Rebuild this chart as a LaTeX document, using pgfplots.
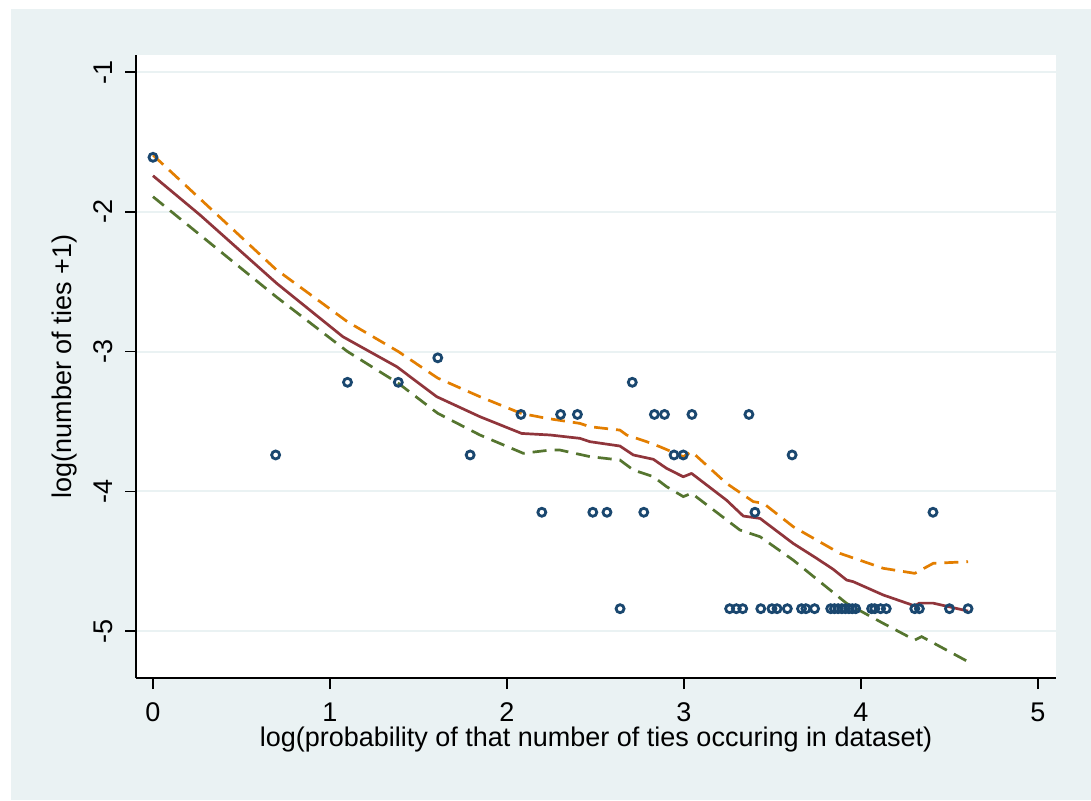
\documentclass[border=0pt]{standalone}
\usepackage{fontspec}
\setmainfont{Liberation Sans}
\usepackage{pgfplots}
\pgfplotsset{compat=1.18}

\definecolor{stbg}{HTML}{EAF2F3}
\definecolor{stnavy}{HTML}{1A476F}
\definecolor{stmaroon}{HTML}{90353B}
\definecolor{storange}{HTML}{E37E00}
\definecolor{stgreen}{HTML}{55752F}

\newcommand{\lblfont}{\fontsize{13.5}{16}\selectfont}

\begin{document}
\begin{tikzpicture}
\path[use as bounding box] (0,0) rectangle (545.5pt,400pt);
\fill[stbg] (5.5pt,0) rectangle (545.5pt,395.5pt);
\begin{axis}[
  at={(68pt,61pt)}, anchor=south west,
  scale only axis, width=460pt, height=311.5pt,
  xmin=-0.096, xmax=5.102,
  ymin=-5.336, ymax=-0.878,
  axis lines*=left,
  axis line style={black, line width=0.8pt},
  axis background/.style={fill=white},
  xtick={0,1,2,3,4,5},
  ytick={-5,-4,-3,-2,-1},
  tick align=outside,
  major tick length=5.5pt,
  tick style={black, line width=0.8pt},
  ymajorgrids,
  grid style={stbg, line width=1pt},
  /pgf/number format/assume math mode=true,
  ticklabel style={font=\lblfont},
  xticklabel style={yshift=-3.5pt},
  yticklabel style={rotate=90, anchor=south, yshift=2.5pt},
  xlabel={log(probability of that number of ties occuring in dataset)},
  ylabel={log(number of ties +1)},
  xlabel style={font=\lblfont, at={([yshift=-31pt]axis description cs:0.5,0)}, anchor=center},
  ylabel style={font=\lblfont, at={([xshift=-35.5pt]axis description cs:0,0.5)}, anchor=center},
  clip=false,
]
% observed values
\addplot[only marks, mark=o, mark size=2pt, line width=1.4pt, color=stnavy] coordinates {
  (0,-1.61) (0.693,-3.74) (1.099,-3.22) (1.386,-3.22) (1.609,-3.045)
  (1.792,-3.74) (2.079,-3.45) (2.197,-4.15) (2.303,-3.45) (2.398,-3.45)
  (2.485,-4.15) (2.565,-4.15) (2.639,-4.84) (2.708,-3.22) (2.773,-4.15)
  (2.833,-3.45) (2.890,-3.45) (2.944,-3.74) (2.996,-3.74) (3.045,-3.45)
  (3.367,-3.45) (3.401,-4.15) (3.611,-3.74) (4.407,-4.15)
  (3.258,-4.84) (3.296,-4.84) (3.332,-4.84) (3.434,-4.84) (3.497,-4.84)
  (3.526,-4.84) (3.584,-4.84) (3.664,-4.84) (3.689,-4.84) (3.738,-4.84)
  (3.829,-4.84) (3.850,-4.84) (3.871,-4.84) (3.892,-4.84) (3.912,-4.84)
  (3.932,-4.84) (3.951,-4.84) (3.970,-4.84) (4.060,-4.84) (4.078,-4.84)
  (4.111,-4.84) (4.143,-4.84) (4.304,-4.84) (4.330,-4.84) (4.500,-4.84)
  (4.605,-4.84)
};
% smoothed fit
\addplot[color=stmaroon, line width=1.35pt, line join=round] coordinates {
  (0,-1.742) (0.266,-2.023) (0.699,-2.512) (1.073,-2.894) (1.377,-3.108)
  (1.603,-3.323) (1.847,-3.466) (2.083,-3.586) (2.243,-3.597) (2.412,-3.621)
  (2.469,-3.645) (2.638,-3.676) (2.714,-3.74) (2.827,-3.771) (2.902,-3.836)
  (2.996,-3.896) (3.043,-3.872) (3.24,-4.063) (3.335,-4.177) (3.43,-4.194)
  (3.617,-4.373) (3.75,-4.48) (3.843,-4.558) (3.919,-4.635) (3.957,-4.647)
  (4.126,-4.742) (4.304,-4.82) (4.33,-4.80) (4.407,-4.80) (4.605,-4.857)
};
% upper band
\addplot[color=storange, line width=1.35pt, dash pattern=on 7pt off 4pt] coordinates {
  (0,-1.594) (0.693,-2.41) (1.099,-2.787) (1.386,-3.0) (1.609,-3.19)
  (1.847,-3.323) (2.079,-3.442) (2.224,-3.478) (2.412,-3.514) (2.469,-3.538)
  (2.638,-3.562) (2.676,-3.597) (2.789,-3.645) (2.864,-3.681) (2.996,-3.752)
  (3.043,-3.716) (3.24,-3.943) (3.392,-4.074) (3.449,-4.086) (3.617,-4.253)
  (3.881,-4.444) (4.126,-4.551) (4.304,-4.587) (4.409,-4.515) (4.605,-4.504)
};
% lower band
\addplot[color=stgreen, line width=1.35pt, dash pattern=on 7pt off 4pt] coordinates {
  (0,-1.892) (0.693,-2.605) (1.099,-3.0) (1.386,-3.227) (1.609,-3.442)
  (1.847,-3.597) (2.092,-3.728) (2.243,-3.705) (2.30,-3.705) (2.469,-3.752)
  (2.638,-3.776) (2.714,-3.848) (2.827,-3.895) (2.902,-3.967) (2.996,-4.038)
  (3.043,-4.014) (3.316,-4.277) (3.43,-4.325) (3.617,-4.492) (3.919,-4.802)
  (4.126,-4.945) (4.304,-5.064) (4.343,-5.04) (4.605,-5.219)
};
\end{axis}
\end{tikzpicture}
\end{document}
